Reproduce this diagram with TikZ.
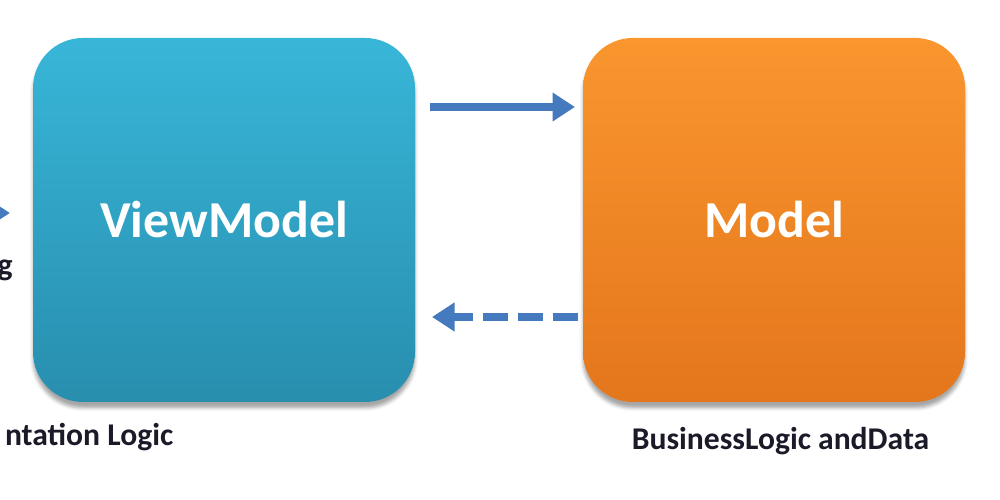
\documentclass[tikz,border=0pt]{standalone}
\usepackage{fontspec}
\setmainfont{Carlito}
\usepackage{tikz}
\usetikzlibrary{arrows.meta,positioning,shadows.blur}
\definecolor{vmtop}{RGB}{56,182,216}
\definecolor{vmbot}{RGB}{40,142,174}
\definecolor{mtop}{RGB}{249,150,46}
\definecolor{mbot}{RGB}{228,118,28}
\definecolor{arrowblue}{RGB}{70,122,190}
\definecolor{labelink}{RGB}{26,26,40}

\begin{document}
\begin{tikzpicture}[-{Triangle[length=0.45cm,width=0.55cm]},line width=0.16cm,
                    draw=arrowblue,node distance=3.36cm]
  \tikzstyle{layer}=[rectangle,rounded corners=1cm,minimum width=7.64cm,outer sep=0pt,
                     minimum height=7.28cm,text=white,font=\bfseries\fontsize{29.5}{36}\selectfont,
                     blur shadow={shadow xshift=0cm,shadow yshift=-0.12cm,shadow opacity=35}]
  \tikzstyle{caption}=[text=labelink,inner sep=0pt,font=\bfseries\fontsize{18}{21}\selectfont]

  \useasboundingbox (0,0) rectangle (20,10);
  \clip (0,0) rectangle (20,10);

  \node[layer,top color=vmtop,bottom color=vmbot] (vm) at (4.48,5.6) {ViewModel};
  \node[layer,top color=mtop,bottom color=mbot]   (m)  [right=of vm] {Model};

  \coordinate (v) at (0.2,5.74);
  \node[caption,anchor=east] (bind) at (0.33,4.6) {g};
  \node[caption,anchor=west] (pres) at (0.02,1.26) {ntation Logic};
  \node[caption] (data) [below=0.43cm of m,xshift=0.13cm] {BusinessLogic andData};

  \draw (-1,5.74) -- (v);
  \draw[shorten <=0.3cm,shorten >=0.16cm] ([yshift=2.26cm]vm.east) -- ([yshift=2.26cm]m.west);
  \draw[dash pattern=on 0.5cm off 0.2cm,shorten <=0.1cm,shorten >=0.34cm]
    ([yshift=-1.94cm]m.west) -- ([yshift=-1.94cm]vm.east);

\end{tikzpicture}
\end{document}
